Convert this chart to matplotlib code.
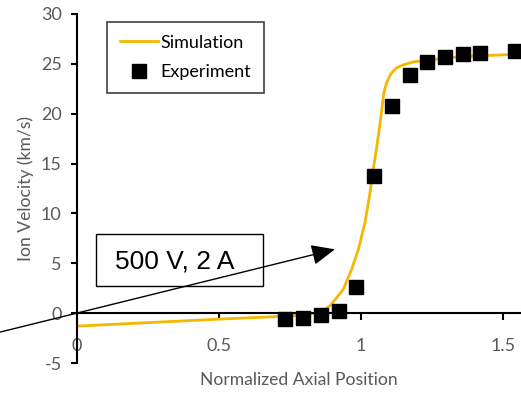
import matplotlib
matplotlib.use("Agg")
import matplotlib.pyplot as plt
from matplotlib.patches import Rectangle

# simulated ion velocity along the channel
sim_x = [0, 0.25, 0.5, 0.7, 0.8, 0.856, 0.891, 0.938, 0.967, 0.991, 1.014,
         1.032, 1.043, 1.055, 1.067, 1.08, 1.09, 1.105, 1.125, 1.15, 1.185,
         1.25, 1.3, 1.4, 1.5, 1.57]
sim_y = [-1.3, -0.95, -0.6, -0.35, -0.2, 0.07, 0.73, 2.4, 4.4, 6.4, 9.1,
         12.1, 14.4, 16.6, 19.0, 22.0, 23.1, 24.0, 24.6, 24.9, 25.2,
         25.4, 25.6, 25.8, 25.9, 26.0]

# measured points
exp_x = [0.732, 0.797, 0.858, 0.921, 0.983, 1.046, 1.108, 1.171, 1.233,
         1.296, 1.358, 1.419, 1.542]
exp_y = [-0.6, -0.5, -0.2, 0.2, 2.6, 13.8, 20.8, 23.9, 25.2, 25.7, 26.0,
         26.1, 26.3]

x_ticks = [0, 0.5, 1, 1.5]
x_tick_labels = ["0", "0.5", "1", "1.5"]
y_ticks = [-5, 0, 5, 10, 15, 20, 25, 30]

GRAY = "#595959"
GOLD = "#F5B800"

plt.rcParams["font.family"] = ["Lato", "DejaVu Sans"]
plt.rcParams["axes.unicode_minus"] = False

fig = plt.figure(figsize=(5.21, 3.93), dpi=100)
ax = fig.add_axes([0.1478, 0.0763, 0.8522, 0.8881])

ax.plot(sim_x, sim_y, color=GOLD, linewidth=2, label="Simulation", zorder=2)
ax.plot(exp_x, exp_y, linestyle="none", marker="s", markersize=9.5,
        color="black", label="Experiment", zorder=3)

ax.set_xlim(0, 1.5634)
ax.set_ylim(-5, 30)
ax.set_xticks(x_ticks)
ax.set_xticklabels(x_tick_labels)
ax.set_yticks(y_ticks)

for side in ["top", "right"]:
    ax.spines[side].set_visible(False)
ax.spines["bottom"].set_position(("data", 0))
ax.spines["left"].set_linewidth(1.5)
ax.spines["bottom"].set_linewidth(1.5)

ax.tick_params(axis="y", direction="out", length=4, width=1.5,
               labelsize=13, labelcolor=GRAY, pad=7)
ax.tick_params(axis="x", direction="out", length=5, width=1.5,
               labelsize=13, labelcolor=GRAY, pad=13)

ax.set_xlabel("Normalized Axial Position", fontsize=12.6, color=GRAY, labelpad=13)
ax.set_ylabel("Ion Velocity (km/s)", fontsize=12.6, color=GRAY, labelpad=5)

leg = ax.legend(loc="upper left", bbox_to_anchor=(0.0676, 0.977),
                borderaxespad=0, fontsize=13, fancybox=False,
                handlelength=2.1, handletextpad=0.15, borderpad=0.7,
                labelspacing=0.75, framealpha=1)
leg.get_frame().set_edgecolor("#404040")
leg.get_frame().set_linewidth(1.2)

# label box with the operating point
ax.add_patch(Rectangle((0.067, 2.7), 0.588, 5.2, facecolor="none",
                       edgecolor="black", linewidth=1, zorder=4))
ax.text(0.134, 5.2, "500 V, 2 A", family=["Liberation Sans", "DejaVu Sans"],
        fontsize=19, ha="left", va="center", zorder=4)

ax.annotate("", xy=(0.908, 6.4), xytext=(-0.271, -1.9),
            arrowprops=dict(arrowstyle="-|>,head_length=0.8,head_width=0.35",
                            color="black", lw=1, mutation_scale=18,
                            shrinkA=0, shrinkB=0),
            annotation_clip=False, zorder=5)

fig.savefig("out.png", dpi=100)
